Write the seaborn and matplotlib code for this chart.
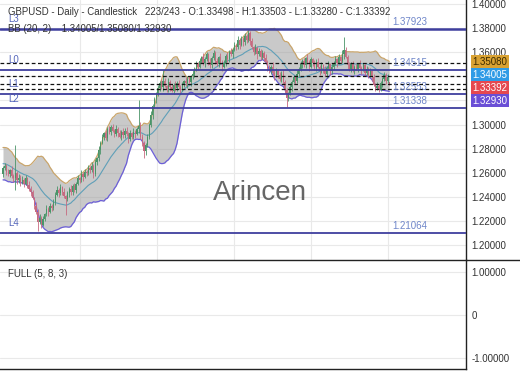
import numpy as np
import pandas as pd
import matplotlib
matplotlib.use("Agg")
import matplotlib.pyplot as plt
import seaborn as sns
from matplotlib.lines import Line2D

# ---------------- data (prices in 1e-4 units) ----------------
pre_closes = [12660, 12700, 12740, 12770, 12750, 12790, 12760, 12720, 12740, 12700,
              12660, 12680, 12630, 12610, 12630, 12580, 12570, 12600, 12590]

opens = [12590, 12640, 12655, 12610, 12590, 12620, 12575, 12560, 12600, 12540,
         12560, 12520, 12545, 12510, 12555, 12500, 12470, 12440, 12390, 12330,
         12280, 12190, 12230, 12170, 12220, 12260, 12300, 12280, 12330, 12310,
         12360, 12420, 12460, 12430, 12480, 12440, 12410, 12380, 12430, 12470,
         12440, 12490, 12460, 12510, 12560, 12540, 12590, 12570, 12610, 12600,
         12640, 12620, 12660, 12590, 12690, 12720, 12790, 12850, 12900, 12930,
         12890, 12960, 12940, 12980, 12950, 12920, 12960, 12930, 12900, 12940,
         12910, 12950, 12920, 12880, 12930, 12900, 12940, 12920, 12960, 12990,
         12900, 12850, 12780, 12830, 12900, 13000, 13080, 13150, 13210, 13260,
         13300, 13340, 13310, 13360, 13320, 13290, 13350, 13310, 13280, 13330,
         13300, 13340, 13310, 13290, 13330, 13360, 13340, 13380, 13350, 13400,
         13420, 13460, 13500, 13480, 13530, 13560, 13510, 13540, 13580, 13520,
         13490, 13550, 13590, 13530, 13500, 13560, 13520, 13480, 13510, 13570,
         13540, 13600, 13580, 13620, 13660, 13640, 13700, 13660, 13710, 13680,
         13730, 13700, 13760, 13690, 13640, 13600, 13630, 13580, 13610, 13560,
         13590, 13550, 13520, 13470, 13440, 13480, 13430, 13400, 13450, 13410,
         13380, 13420, 13350, 13290, 13220, 13260, 13310, 13350, 13390, 13360,
         13420, 13460, 13500, 13530, 13490, 13550, 13520, 13480, 13540, 13510,
         13470, 13520, 13480, 13440, 13490, 13450, 13420, 13470, 13500, 13440,
         13480, 13510, 13540, 13510, 13560, 13530, 13580, 13620, 13560, 13490,
         13460, 13500, 13450, 13480, 13460, 13500, 13470, 13450, 13490, 13430,
         13460, 13410, 13440, 13390, 13330, 13300, 13320, 13290, 13340, 13380,
         13410, 13360, 13349.8]

highs = [12660, 12685, 12670, 12635, 12630, 12655, 12593, 12834, 12612, 12588,
         12580, 12575, 12560, 12580, 12565, 12535, 12488, 12462, 12402, 12358,
         12300, 12260, 12245, 12245, 12270, 12335, 12318, 12352, 12342, 12388,
         12440, 12490, 12475, 12505, 12490, 12475, 12420, 12452, 12482, 12498,
         12510, 12520, 12525, 12585, 12570, 12625, 12608, 12632, 12622, 12668,
         12660, 12690, 12675, 12715, 12730, 12825, 12868, 12922, 12942, 12958,
         12980, 12990, 12995, 13005, 12960, 12995, 12978, 12952, 12952, 12968,
         12970, 12980, 12935, 12955, 12940, 12975, 12958, 12982, 13205, 13018,
         12920, 12865, 12845, 12925, 13010, 13115, 13168, 13232, 13272, 13328,
         13360, 13370, 13450, 13385, 13330, 13385, 13368, 13332, 13342, 13358,
         13360, 13370, 13325, 13355, 13370, 13395, 13398, 13402, 13412, 13448,
         13480, 13530, 13515, 13555, 13570, 13595, 13558, 13602, 13592, 13548,
         13570, 13620, 13605, 13555, 13570, 13595, 13538, 13532, 13582, 13598,
         13620, 13630, 13635, 13685, 13670, 13735, 13718, 13732, 13722, 13758,
         13750, 13785, 13775, 13715, 13650, 13665, 13648, 13632, 13622, 13618,
         13610, 13580, 13535, 13495, 13490, 13515, 13448, 13472, 13462, 13438,
         13440, 13450, 13365, 13302, 13270, 13345, 13368, 13412, 13402, 13448,
         13480, 13530, 13545, 13555, 13560, 13585, 13538, 13562, 13552, 13538,
         13540, 13550, 13495, 13515, 13500, 13485, 13488, 13522, 13512, 13508,
         13530, 13570, 13555, 13585, 13570, 13615, 13728, 13642, 13572, 13518,
         13520, 13530, 13495, 13505, 13510, 13535, 13488, 13512, 13502, 13488,
         13480, 13470, 13455, 13415, 13340, 13355, 13338, 13362, 13392, 13438,
         13430, 13420, 13350.3]

lows = [12565, 12625, 12580, 12578, 12568, 12557, 12525, 12462, 12512, 12520,
        12495, 12505, 12480, 12498, 12478, 12452, 12405, 12380, 12302, 12260,
        12115, 12175, 12140, 12158, 12198, 12242, 12245, 12270, 12282, 12290,
        12335, 12405, 12400, 12418, 12418, 12392, 12255, 12370, 12402, 12420,
        12415, 12445, 12430, 12498, 12518, 12522, 12535, 12560, 12572, 12580,
        12595, 12605, 12560, 12578, 12668, 12702, 12755, 12840, 12872, 12870,
        12865, 12925, 12910, 12938, 12898, 12902, 12895, 12890, 12872, 12890,
        12885, 12905, 12850, 12868, 12878, 12882, 12885, 12910, 12932, 12880,
        12825, 12726, 12750, 12818, 12878, 12982, 13045, 13140, 13182, 13240,
        13275, 13295, 13280, 13308, 13268, 13272, 13275, 13270, 13252, 13280,
        13275, 13295, 13260, 13278, 13308, 13322, 13305, 13340, 13322, 13380,
        13395, 13445, 13450, 13468, 13508, 13492, 13475, 13530, 13492, 13470,
        13465, 13535, 13500, 13488, 13478, 13502, 13445, 13470, 13482, 13520,
        13515, 13565, 13550, 13608, 13618, 13622, 13625, 13650, 13652, 13660,
        13675, 13685, 13660, 13628, 13578, 13582, 13545, 13570, 13532, 13540,
        13525, 13505, 13440, 13428, 13418, 13412, 13365, 13390, 13382, 13360,
        13355, 13335, 13260, 13145, 13198, 13242, 13275, 13340, 13332, 13340,
        13395, 13445, 13470, 13478, 13468, 13502, 13445, 13470, 13482, 13450,
        13445, 13465, 13410, 13428, 13428, 13402, 13385, 13460, 13412, 13420,
        13455, 13495, 13480, 13498, 13508, 13512, 13545, 13550, 13462, 13440,
        13435, 13435, 13420, 13448, 13438, 13452, 13415, 13440, 13402, 13410,
        13385, 13395, 13360, 13318, 13278, 13282, 13270, 13280, 13312, 13360,
        13335, 13345, 13328.0]

closes = [12640, 12655, 12610, 12590, 12620, 12575, 12560, 12600, 12540, 12560,
          12520, 12545, 12510, 12555, 12500, 12470, 12440, 12390, 12330, 12280,
          12190, 12230, 12170, 12220, 12260, 12300, 12280, 12330, 12310, 12360,
          12420, 12460, 12430, 12480, 12440, 12410, 12380, 12430, 12470, 12440,
          12490, 12460, 12510, 12560, 12540, 12590, 12570, 12610, 12600, 12640,
          12620, 12660, 12590, 12690, 12720, 12790, 12850, 12900, 12930, 12890,
          12960, 12940, 12980, 12950, 12920, 12960, 12930, 12900, 12940, 12910,
          12950, 12920, 12880, 12930, 12900, 12940, 12920, 12960, 12990, 12900,
          12850, 12780, 12830, 12900, 13000, 13080, 13150, 13210, 13260, 13300,
          13340, 13310, 13360, 13320, 13290, 13350, 13310, 13280, 13330, 13300,
          13340, 13310, 13290, 13330, 13360, 13340, 13380, 13350, 13400, 13420,
          13460, 13500, 13480, 13530, 13560, 13510, 13540, 13580, 13520, 13490,
          13550, 13590, 13530, 13500, 13560, 13520, 13480, 13510, 13570, 13540,
          13600, 13580, 13620, 13660, 13640, 13700, 13660, 13710, 13680, 13730,
          13700, 13760, 13690, 13640, 13600, 13630, 13580, 13610, 13560, 13590,
          13550, 13520, 13470, 13440, 13480, 13430, 13400, 13450, 13410, 13380,
          13420, 13350, 13290, 13220, 13260, 13310, 13350, 13390, 13360, 13420,
          13460, 13500, 13530, 13490, 13550, 13520, 13480, 13540, 13510, 13470,
          13520, 13480, 13440, 13490, 13450, 13420, 13470, 13500, 13440, 13480,
          13510, 13540, 13510, 13560, 13530, 13580, 13620, 13560, 13490, 13460,
          13500, 13450, 13480, 13460, 13500, 13470, 13450, 13490, 13430, 13460,
          13410, 13440, 13390, 13330, 13300, 13320, 13290, 13340, 13380, 13410,
          13360, 13390, 13339.2]

level_names = ["L3", "L0", "L1", "L2", "L4"]
level_values = [1.37923, 1.34515, 1.32553, 1.31338, 1.21064]
level_labels = ["1.37923", "1.34515", "1.32553", "1.31338", "1.21064"]

bb_line_values = [1.35080, 1.34005, 1.33392, 1.32930]
tag_labels = ["1.35080", "1.34005", "1.33392", "1.32930"]
tag_colors = ["#d9a233", "#2f9be6", "#e5484f", "#6a4fd6"]
tag_text_colors = ["#3a2a00", "white", "white", "white"]

title_text = "GBPUSD - Daily - Candlestick   223/243 - O:1.33498 - H:1.33503 - L:1.33280 - C:1.33392"
bb_text = "BB (20, 2)    1.34005/1.35080/1.32930"
osc_text = "FULL (5, 8, 3)"
price_ticks = [1.18, 1.20, 1.22, 1.24, 1.26, 1.28, 1.30, 1.32, 1.34, 1.36, 1.38, 1.40]
osc_ticks = [-1.0, 0.0, 1.0]
osc_tick_labels = ["-1.00000", "0", "1.00000"]

# ---------------- prep ----------------
sc = 1e4
o = np.array(opens) / sc
h = np.array(highs) / sc
l = np.array(lows) / sc
c = np.array(closes) / sc
h = np.maximum(h, np.maximum(o, c))
l = np.minimum(l, np.minimum(o, c))
n = len(c)
idx = np.arange(n)

allc = pd.Series(np.concatenate([np.array(pre_closes) / sc, c]))
mid = allc.rolling(20).mean().values[-n:]
sd = allc.rolling(20).std(ddof=0).values[-n:]
bb = pd.DataFrame({"idx": idx, "mid": mid, "upper": mid + 2 * sd, "lower": mid - 2 * sd})

# ---------------- style ----------------
sns.set_theme(style="white")
plt.rcParams["font.family"] = ["Liberation Sans", "DejaVu Sans"]

W, H = 520, 390
fig = plt.figure(figsize=(W / 100, H / 100), dpi=100)
ax = fig.add_axes([0, 1 - 260 / H, 466 / W, 260 / H])
ax2 = fig.add_axes([0, 1 - 369 / H, 466 / W, 109 / H])

x_lo, x_hi = -1.72, 266.1
y_lo, y_hi = 1.1879, 1.4031

# Bollinger band
ax.fill_between(bb["idx"], bb["lower"], bb["upper"], color="#a2a2a2", alpha=0.58, lw=0, zorder=1)
sns.lineplot(data=bb, x="idx", y="upper", ax=ax, color="#c9a56b", lw=0.9, zorder=2)
sns.lineplot(data=bb, x="idx", y="lower", ax=ax, color="#6c5fd8", lw=0.9, zorder=2)
sns.lineplot(data=bb, x="idx", y="mid", ax=ax, color="#5f9fb8", lw=0.8, zorder=2)
ax.set_xlabel("")
ax.set_ylabel("")

# candles
up = c >= o
cols = np.where(up, "#4a9468", "#c66a80")
ax.vlines(idx, l, h, colors=cols, lw=0.6, zorder=3)
body_lo = np.minimum(o, c)
body_h = np.maximum(np.abs(c - o), 0.0002)
ax.bar(idx, body_h, bottom=body_lo, width=0.7, color=cols, lw=0, zorder=3)

# level lines
for name, val, lab in zip(level_names, level_values, level_labels):
    ax.axhline(val, color="#3f3f9e", lw=1.8 if name == "L3" else 1.3, zorder=4)
    ax.annotate(name, xy=(8 / 466, val), xycoords=("axes fraction", "data"),
                xytext=(0, 7), textcoords="offset points", va="center", ha="left",
                fontsize=7, color="#5566bb", zorder=5)
    ax.annotate(lab, xy=(392 / 466, val), xycoords=("axes fraction", "data"),
                xytext=(0, 5), textcoords="offset points", va="center", ha="left",
                fontsize=7, color="#6f86c9", zorder=5)

for val in bb_line_values:
    ax.axhline(val, color="#111111", lw=0.9, ls=(0, (3, 2)), zorder=4)

# axes setup (ticks first, then limits)
ax.set_xticks([44.3, 88.5, 132.8, 177.0, 221.3])
ax.set_xticklabels([])
ax.set_yticks(price_ticks)
ax.set_yticklabels(["" if abs(t - 1.34) < 1e-9 or abs(t - 1.32) < 1e-9 else f"{t:.5f}" for t in price_ticks])
ax.set_xlim(x_lo, x_hi)
ax.set_ylim(y_lo, y_hi)
ax.grid(True, color="#e9e9e9", lw=0.8)
ax.set_axisbelow(True)
ax.yaxis.tick_right()
ax.tick_params(axis="y", length=0, pad=4, labelsize=7, labelcolor="#333333")
ax.tick_params(axis="x", length=0)
for s in ["left", "top", "bottom"]:
    ax.spines[s].set_visible(False)
ax.spines["right"].set_color("#222222")
ax.spines["right"].set_linewidth(1.0)

# price tags (stacked)
tag_pos = 1.3520
for lab, fc, tc in zip(tag_labels, tag_colors, tag_text_colors):
    ax.text(1.014, tag_pos, lab, transform=ax.get_yaxis_transform(), ha="left", va="center",
            fontsize=7, color=tc, clip_on=False, zorder=6,
            bbox=dict(boxstyle="square,pad=0.18", fc=fc, ec="none"))
    tag_pos -= 0.0107

# texts
ax.text(8 / 466, 1 - 12 / 260, title_text, transform=ax.transAxes, ha="left", va="center",
        fontsize=6.9, color="#333333", zorder=6)
ax.text(8 / 466, 1 - 29.5 / 260, bb_text, transform=ax.transAxes, ha="left", va="center",
        fontsize=6.9, color="#333333", zorder=6)
ax.text(260 / 466, 1 - 193 / 260, "Arincen", transform=ax.transAxes, ha="center", va="center",
        fontsize=20, color="#555555", alpha=0.9, zorder=6)

# oscillator panel
ax2.set_xticks([])
ax2.set_yticks(osc_ticks)
ax2.set_yticklabels(osc_tick_labels)
ax2.set_xlim(x_lo, x_hi)
ax2.set_ylim(-1.256, 1.28)
ax2.yaxis.tick_right()
ax2.tick_params(axis="y", length=0, pad=4, labelsize=7, labelcolor="#333333")
ax2.grid(True, axis="y", color="#e9e9e9", lw=0.8)
ax2.spines["left"].set_visible(False)
for s in ["top", "right", "bottom"]:
    ax2.spines[s].set_color("#222222")
    ax2.spines[s].set_linewidth(1.0)
ax2.text(8 / 466, 1 - 14 / 109, osc_text, transform=ax2.transAxes, ha="left", va="center",
         fontsize=7, color="#333333")

fig.add_artist(Line2D([466 / W, 1.0], [1 - 260 / H, 1 - 260 / H], transform=fig.transFigure,
                      color="#222222", lw=1.0))

fig.savefig("out.png", dpi=100)
